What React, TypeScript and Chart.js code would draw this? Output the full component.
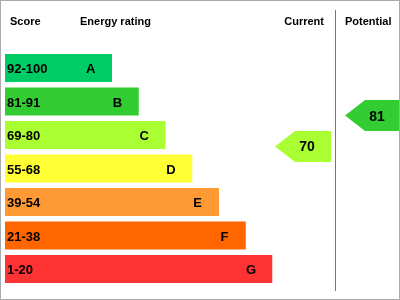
import React, { useEffect, useRef } from "react";
import { Chart, registerables, Plugin } from "chart.js";

Chart.register(...registerables);

// Energy efficiency bands, best to worst
const bandLetters = ["A", "B", "C", "D", "E", "F", "G"];
const scoreRanges = ["92-100", "81-91", "69-80", "55-68", "39-54", "21-38", "1-20"];
const bandMin = [92, 81, 69, 55, 39, 21, 1];
const bandMax = [100, 91, 80, 68, 54, 38, 20];
const barLengths = [4, 5, 6, 7, 8, 9, 10];
const bandColors = ["#00cc66", "#33cc33", "#aaff33", "#ffff33", "#ff9933", "#ff6600", "#ff3333"];

const currentScore = 70;
const potentialScore = 81;

const FONT = '"Liberation Sans", Arial, sans-serif';

function bandIndexFor(score: number): number {
  const i = bandMin.findIndex((lo, k) => score >= lo && score <= bandMax[k]);
  return i < 0 ? bandMin.length - 1 : i;
}

const epcPlugin: Plugin<"bar"> = {
  id: "epcDecor",
  afterDatasetsDraw(chart) {
    const ctx = chart.ctx;
    const xs = chart.scales.x;
    const ys = chart.scales.y;
    const meta = chart.getDatasetMeta(0);
    const W = chart.width;
    const H = chart.height;
    const pitch = (chart.chartArea.bottom - chart.chartArea.top) / bandLetters.length;

    ctx.save();

    // frame
    ctx.strokeStyle = "#aaaaaa";
    ctx.lineWidth = 1;
    ctx.strokeRect(0.5, 0.5, W - 1, H - 1);

    // column divider
    const divX = 335.5;
    ctx.strokeStyle = "#777777";
    ctx.beginPath();
    ctx.moveTo(divX, 10);
    ctx.lineTo(divX, 291);
    ctx.stroke();

    // headers
    ctx.fillStyle = "#000";
    ctx.font = `bold 11px ${FONT}`;
    ctx.textBaseline = "alphabetic";
    ctx.textAlign = "left";
    ctx.fillText("Score", 10, 25);
    ctx.fillText("Energy rating", 80, 25);
    ctx.textAlign = "right";
    ctx.fillText("Current", 324, 25);
    ctx.textAlign = "left";
    ctx.fillText("Potential", 345, 25);

    // band labels
    ctx.font = `bold 13px ${FONT}`;
    bandLetters.forEach((letter, i) => {
      const cy = ys.getPixelForValue(i);
      ctx.textAlign = "left";
      ctx.fillText(scoreRanges[i], chart.chartArea.left + 2, cy + 5);
      ctx.textAlign = "center";
      ctx.fillText(letter, xs.getPixelForValue(barLengths[i] - 0.8), cy + 5);
    });

    // rating arrows
    const drawArrow = (score: number, tipX: number, rightX: number) => {
      const idx = bandIndexFor(score);
      const el: any = meta.data[idx];
      const thick = el.height as number;
      const frac = (bandMax[idx] - score) / (bandMax[idx] - bandMin[idx]);
      const cy = ys.getPixelForValue(idx) + (frac - 0.5) * thick;
      const half = (pitch - 2.5) / 2;
      ctx.fillStyle = bandColors[idx];
      ctx.beginPath();
      ctx.moveTo(tipX, cy);
      ctx.lineTo(tipX + 20, cy - half);
      ctx.lineTo(rightX, cy - half);
      ctx.lineTo(rightX, cy + half);
      ctx.lineTo(tipX + 20, cy + half);
      ctx.closePath();
      ctx.fill();
      ctx.fillStyle = "#000";
      ctx.font = `bold 14px ${FONT}`;
      ctx.textAlign = "center";
      ctx.fillText(String(score), tipX + 32, cy + 5);
    };
    drawArrow(currentScore, 275, 331);
    drawArrow(potentialScore, 345, W - 1);

    ctx.restore();
  },
};

export default function App() {
  const ref = useRef<HTMLCanvasElement | null>(null);

  useEffect(() => {
    document.body.style.margin = "0";
    const canvas = ref.current;
    if (!canvas) return;
    const chart = new Chart(canvas, {
      type: "bar",
      data: {
        labels: bandLetters,
        datasets: [
          {
            data: barLengths,
            backgroundColor: bandColors,
            borderWidth: 0,
            barPercentage: 0.836,
            categoryPercentage: 1,
          },
        ],
      },
      options: {
        indexAxis: "y",
        responsive: false,
        animation: false,
        layout: { padding: { left: 5, right: 127.5, top: 51.25, bottom: 14.25 } },
        plugins: { legend: { display: false }, tooltip: { enabled: false } },
        scales: {
          x: { display: false, min: 0, max: 10 },
          y: { display: false },
        },
      },
      plugins: [epcPlugin],
    });
    return () => chart.destroy();
  }, []);

  return (
    <div style={{ width: 400, height: 300, background: "#fff" }}>
      <canvas ref={ref} width={400} height={300} style={{ display: "block" }} />
    </div>
  );
}
